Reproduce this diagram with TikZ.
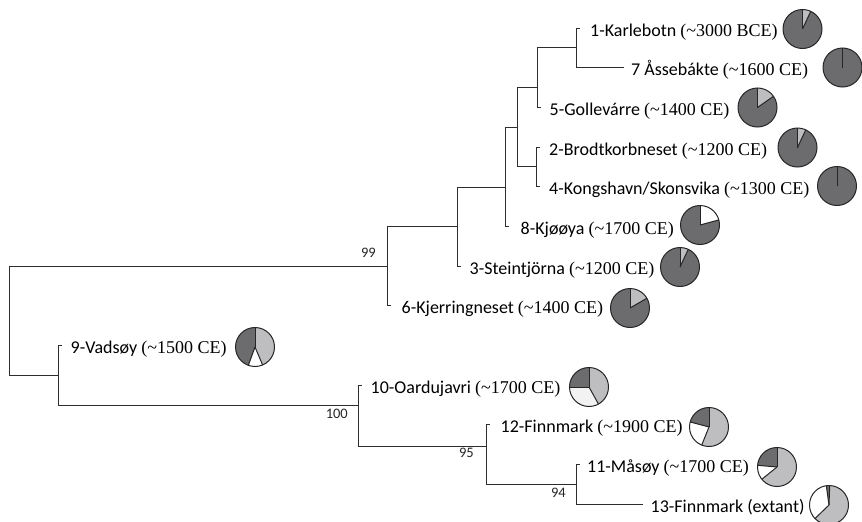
\documentclass[tikz,border=0pt]{standalone}
\usepackage{fontspec}
\newfontfamily\calfont{Carlito}
\newfontfamily\tmsfont{Liberation Serif}
\definecolor{pdark}{RGB}{108,108,110}
\definecolor{plight}{RGB}{190,190,192}
\definecolor{pvlight}{RGB}{242,242,242}
\definecolor{treecol}{RGB}{45,45,45}
\def\pr{19.5pt}
\tikzset{
  branch/.style={draw=treecol, line width=0.9pt},
  pieline/.style={draw=black!85, line width=1.0pt},
  lab/.style={inner sep=0pt, anchor=base west, font=\calfont\fontsize{18}{20}\selectfont},
  boot/.style={inner sep=0pt, anchor=base east, font=\calfont\fontsize{14.5}{16}\selectfont, text=black!85}
}
\newcommand{\mypie}[3]{%
  \coordinate (#1) at (#2);
  \foreach \a/\b/\c in {#3} {\fill[\c] (#1) -- ++({90-\a}:\pr) arc[start angle={90-\a}, end angle={90-\b}, radius=\pr] -- cycle;}
  \foreach \a/\b/\c in {#3} {\draw[pieline] (#1) -- ++({90-\a}:\pr);}
  \draw[pieline] (#1) circle[radius=\pr];
}
\newcommand{\dt}[1]{{\tmsfont (\textasciitilde #1)}}
\begin{document}
\begin{tikzpicture}[x=1pt,y=-1pt]
\useasboundingbox (0,0) rectangle (862,522);
% leaf tips
\coordinate (l1) at (580,28);
\coordinate (l7) at (624,67.7);
\coordinate (l5) at (541,107.3);
\coordinate (l2) at (540,147);
\coordinate (l4) at (540,186.7);
\coordinate (l8) at (509,226.3);
\coordinate (l3) at (461,266);
\coordinate (l6) at (391,305.7);
\coordinate (l9) at (62,345.3);
\coordinate (l10) at (362,385);
\coordinate (l12) at (490,424.7);
\coordinate (l11) at (580,464.3);
\coordinate (l13) at (643,504);
% internal nodes
\coordinate (nA) at (576,47.8);
\coordinate (nB) at (537,87.7);
\coordinate (nD) at (536,166.8);
\coordinate (nC) at (517,127.3);
\coordinate (nE) at (505,187);
\coordinate (nF) at (457,226.5);
\coordinate (nG) at (387,266);
\coordinate (nK) at (576,484);
\coordinate (nJ) at (486,446);
\coordinate (nI) at (358,405);
\coordinate (nH) at (58,375);
\coordinate (root) at (9,320.5);
% branches
\draw[branch] (nA) |- (l1) (nA) |- (l7);
\draw[branch] (nB) |- (nA) (nB) |- (l5);
\draw[branch] (nD) |- (l2) (nD) |- (l4);
\draw[branch] (nC) |- (nB) (nC) |- (nD);
\draw[branch] (nE) |- (nC) (nE) |- (l8);
\draw[branch] (nF) |- (nE) (nF) |- (l3);
\draw[branch] (nG) |- (nF) (nG) |- (l6);
\draw[branch] (nK) |- (l11) (nK) |- (l13);
\draw[branch] (nJ) |- (l12) (nJ) |- (nK);
\draw[branch] (nI) |- (l10) (nI) |- (nJ);
\draw[branch] (nH) |- (l9) (nH) |- (nI);
\draw[branch] (root) |- (nG) (root) |- (nH);
% bootstrap values
\node[boot] (b99) at (376,257.5) {99};
\node[boot] (b100) at (348,418.5) {100};
\node[boot] (b95) at (474,457) {95};
\node[boot] (b94) at (566,497.5) {94};
% labels
\node[lab] (t1) at (590,36) {1-Karlebotn \dt{3000 BCE}};
\node[lab] (t7) at (631,75.7) {7 Åssebákte \dt{1600 CE}};
\node[lab] (t5) at (549.5,115.3) {5-Gollevárre \dt{1400 CE}};
\node[lab] (t2) at (549,155) {2-Brodtkorbneset \dt{1200 CE}};
\node[lab] (t4) at (549,194.7) {4-Kongshavn/Skonsvika \dt{1300 CE}};
\node[lab] (t8) at (520.5,234.3) {8-Kjøøya \dt{1700 CE}};
\node[lab] (t3) at (469.5,274) {3-Steintjörna \dt{1200 CE}};
\node[lab] (t6) at (401.5,313.7) {6-Kjerringneset \dt{1400 CE}};
\node[lab] (t9) at (70.5,353.3) {9-Vadsøy \dt{1500 CE}};
\node[lab] (t10) at (370.5,393) {10-Oardujavri \dt{1700 CE}};
\node[lab] (t12) at (500.5,432.7) {12-Finnmark \dt{1900 CE}};
\node[lab] (t11) at (587,472.3) {11-Måsøy \dt{1700 CE}};
\node[lab] (t13) at (650.5,512) {13-Finnmark (extant)};
% pies
\mypie{p1}{802.5,29}{0/25/plight,25/360/pdark}
\mypie{p7}{842.5,67.5}{0/360/pdark}
\mypie{p5}{757.5,107.5}{0/55/plight,55/360/pdark}
\mypie{p2}{797.5,147.5}{0/25/plight,25/360/pdark}
\mypie{p4}{837,186}{0/360/pdark}
\mypie{p8}{700,225}{0/75/white,75/360/pdark}
\mypie{p3}{680,267}{0/25/plight,25/360/pdark}
\mypie{p6}{630,308}{0/60/plight,60/360/pdark}
\mypie{p9}{255,347}{0/157/plight,157/200/white,200/360/pdark}
\mypie{p10}{589,387}{0/151/plight,151/270/pvlight,270/360/pdark}
\mypie{p12}{709,427}{0/202/plight,202/285/white,285/360/pdark}
\mypie{p11}{777,467}{0/231/plight,231/275/white,275/360/pdark}
\mypie{p13}{829,505}{2/226/plight,226/352/white,352/362/pdark}
\end{tikzpicture}
\end{document}
